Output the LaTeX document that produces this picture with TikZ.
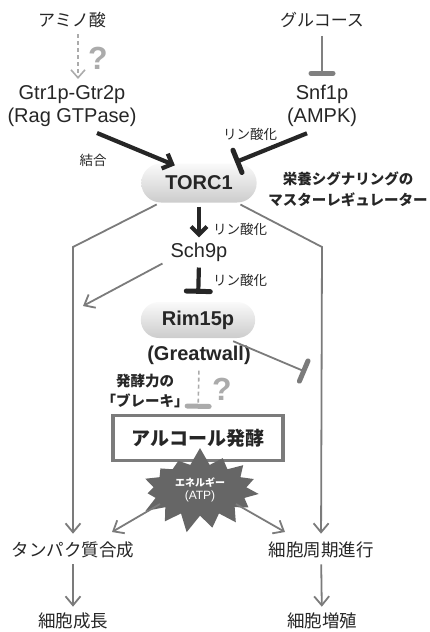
\documentclass[tikz,border=0pt]{standalone}
\usepackage{fontspec}
\setmainfont{Liberation Sans}
\newfontfamily\jp{Noto Sans CJK JP}
\usetikzlibrary{arrows.meta,shapes.misc,shapes.symbols}

\definecolor{txt}{HTML}{262626}
\definecolor{lgray}{HTML}{7B7B7B}
\definecolor{pale}{HTML}{ABABAB}
\definecolor{burstgray}{HTML}{666666}
\newcommand{\setsz}[2]{\fontsize{#1}{#2}\selectfont}

\begin{document}
\begin{tikzpicture}[x=1pt,y=-1pt,
            ltxt/.style={text=txt,font=\setsz{20}{23.5},align=center,inner sep=2pt},
            jtxt/.style={text=txt,font=\jp\setsz{17}{20},inner sep=2pt},
            small/.style={text=txt,font=\jp\setsz{13.5}{16},inner sep=1pt},
            jbold/.style={text=txt,font=\jp\bfseries\setsz{14.5}{21},align=center,inner sep=1pt},
            qmark/.style={text=pale,font=\bfseries\setsz{32}{32},inner sep=0pt},
            pill/.style={rounded rectangle,top color=gray!4,bottom color=gray!40,minimum width=122pt,minimum height=39pt,font=\bfseries\setsz{20}{24},text=txt},
            fbox/.style={draw=lgray,line width=3.5pt,fill=white,minimum width=170pt,minimum height=45pt,font=\jp\bfseries\setsz{19}{22},text=txt},
            burst/.style={starburst,starburst points=15,starburst point height=18pt,random starburst=7,fill=burstgray,draw=none,inner xsep=8pt,inner ysep=6pt,text=white,align=center},
            gline/.style={draw=lgray,line width=1.8pt},
            garrow/.style={gline,-{Straight Barb[length=9pt,width=15pt]}},
            ginhib/.style={gline,-{Bar[width=22pt,line width=5pt,round]}},
            barrow/.style={draw=txt,line width=4.2pt,-{Straight Barb[length=8pt,width=16pt]}},
            binhib/.style={draw=txt,line width=4.2pt,-{Bar[width=24pt,line width=5pt,round]}},
            dinhib/.style={draw=pale,line width=1.6pt,dash pattern=on 4pt off 3pt,-{Bar[width=22pt,line width=5pt,round]}}
          ]
          \useasboundingbox (0,0) rectangle (429,632);

          %upstream signals
          \node[jtxt] (amino) at (72,20) {アミノ酸};
          \node[jtxt] (gluc) at (322,20) {グルコース};
          \node[qmark] (q1) at (98,58) {?};
          \node[ltxt] (gtr) at (72,106) {Gtr1p-Gtr2p\\(Rag GTPase)};
          \node[ltxt] (snf) at (322,106) {Snf1p\\(AMPK)};
          \node[small] (bind) at (93,160) {結合};
          \node[small] (ph1) at (250,134) {リン酸化};

          %TORC1 and downstream
          \node[pill] (torc) at (199,183) {TORC1};
          \node[jbold] (master) at (348,189) {栄養シグナリングの\\マスターレギュレーター};
          \node[ltxt] (sch) at (199,252) {Sch9p};
          \node[small] (ph2) at (240,229) {リン酸化};
          \node[small] (ph3) at (240,280) {リン酸化};
          \node[pill,minimum width=121pt,minimum height=36pt] (rim) at (198,320) {Rim15p};
          \node[ltxt,font=\bfseries\setsz{20}{24}] (gw) at (199,355) {(Greatwall)};
          \node[jbold,font=\jp\bfseries\setsz{14.5}{20}] (brake) at (145,391) {発酵力の\\「ブレーキ」};
          \node[qmark] (q2) at (222,389) {?};

          %fermentation
          \node[fbox] (ferm) at (198,438) {アルコール発酵};
          \node[burst] (atp) at (200,490) {{\jp\bfseries\setsz{10}{12}エネルギー}\\[1pt]{\setsz{12}{13}(ATP)}};

          %outputs
          \node[jtxt,font=\jp\setsz{17.5}{20}] (prot) at (73,550) {タンパク質合成};
          \node[jtxt,font=\jp\setsz{17.5}{20}] (cyc) at (321,550) {細胞周期進行};
          \node[jtxt,font=\jp\setsz{17.5}{20}] (grow) at (73,621) {細胞成長};
          \node[jtxt,font=\jp\setsz{17.5}{20}] (prolif) at (322,621) {細胞増殖};

          \coordinate (lbend) at (73,247);
          \coordinate (rbend) at (322,247);
          \coordinate (ltip) at (83,306);
          \coordinate (rbar) at (306,372);

          \draw[draw=pale,line width=1.6pt,dash pattern=on 4pt off 3pt,-{Straight Barb[length=8pt,width=14pt]},shorten <=4pt,shorten >=4pt]
            ([xshift=6pt]amino.south) -- ([xshift=6pt]gtr.north);
          \draw[ginhib,draw=gray,shorten <=6pt,shorten >=7pt] (gluc.south) -- (snf.north);
          \draw[barrow] ([xshift=25pt,yshift=-4pt]gtr.south) -- ([xshift=14pt,yshift=-2pt]torc.north west);
          \draw[binhib] ([xshift=-15pt,yshift=-4pt]snf.south) -- ([xshift=-2pt,yshift=1pt]torc.north east);
          \draw[barrow,shorten <=4pt,shorten >=3pt] (torc.south) -- (sch.north);
          \draw[binhib,shorten <=4pt,shorten >=8pt] (sch.south) -- (rim.north);
          \draw[garrow,shorten <=4pt,shorten >=6pt] (torc) -- (lbend) -- (prot);
          \draw[garrow,shorten <=4pt,shorten >=6pt] (torc) -- (rbend) -- (cyc);
          \draw[garrow] ([xshift=-6pt]sch.south west) -- (ltip);
          \draw[ginhib] ([xshift=-4pt,yshift=-3pt]rim.south east) -- (rbar);
          \draw[dinhib,shorten <=4pt,shorten >=5pt] (gw.south) -- (ferm.north);
          \draw[garrow] ([shift={(-40,14)}]atp.center) -- ([shift={(39,-18)}]prot.center);
          \draw[garrow] ([shift={(36,14)}]atp.center) -- ([shift={(-36,-18)}]cyc.center);
          \draw[garrow,shorten <=4pt,shorten >=4pt] (prot) -- (grow);
          \draw[garrow,shorten <=4pt,shorten >=4pt] (cyc) -- (prolif);
\end{tikzpicture}
\end{document}
